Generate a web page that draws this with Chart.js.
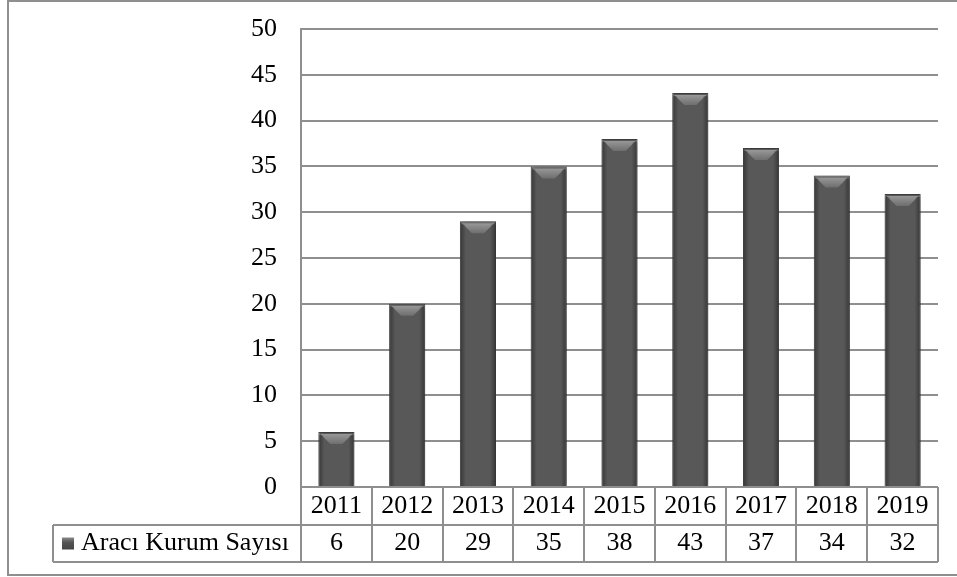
<!DOCTYPE html>
<html>
<head>
<meta charset="utf-8">
<script src="https://cdn.jsdelivr.net/npm/chart.js@4.4.1/dist/chart.umd.min.js"></script>
<style>
  body { margin: 0; background: #fff; }
  canvas { display: block; }
</style>
</head>
<body>
<canvas id="bar-chart" width="957" height="577"></canvas>
<script>
const years = ['2011', '2012', '2013', '2014', '2015', '2016', '2017', '2018', '2019'];
const counts = [6, 20, 29, 35, 38, 43, 37, 34, 32];
const seriesName = 'Aracı Kurum Sayısı';
const yMin = 0, yMax = 50, yStep = 5;

const lineGray = '#8f8f8f';
const barGray = '#585858';
const fontFamily = '"Liberation Serif", "Times New Roman", serif';
const font = '26px ' + fontFamily;

// soft shadow round the bars
const barShadow = {
  id: 'barShadow',
  beforeDatasetsDraw(chart) {
    const ctx = chart.ctx;
    ctx.save();
    ctx.shadowColor = 'rgba(0,0,0,0.4)';
    ctx.shadowBlur = 7;
    ctx.shadowOffsetX = 2;
    ctx.shadowOffsetY = 1;
  },
  afterDatasetsDraw(chart) {
    chart.ctx.restore();
    // bevel on the top of each bar
    const ctx = chart.ctx;
    chart.getDatasetMeta(0).data.forEach(bar => {
      const l = bar.x - bar.width / 2, r = bar.x + bar.width / 2, t = bar.y;
      const b = Math.min(12, (bar.base - t) / 2);
      const g = ctx.createLinearGradient(0, t, 0, t + b);
      g.addColorStop(0, '#a0a0a0');
      g.addColorStop(1, '#6e6e6e');
      ctx.fillStyle = g;
      ctx.beginPath();
      ctx.moveTo(l + 2, t + 2);
      ctx.lineTo(r - 2, t + 2);
      ctx.lineTo(r - b, t + b);
      ctx.lineTo(l + b, t + b);
      ctx.closePath();
      ctx.fill();
      // darker sides
      const sl = ctx.createLinearGradient(l, 0, l + 6, 0);
      sl.addColorStop(0, 'rgba(35,35,35,0.65)');
      sl.addColorStop(1, 'rgba(35,35,35,0)');
      ctx.fillStyle = sl;
      ctx.fillRect(l + 1, t + 3, 6, bar.base - t - 3);
      const sr = ctx.createLinearGradient(r - 6, 0, r, 0);
      sr.addColorStop(0, 'rgba(35,35,35,0)');
      sr.addColorStop(1, 'rgba(35,35,35,0.65)');
      ctx.fillStyle = sr;
      ctx.fillRect(r - 7, t + 3, 6, bar.base - t - 3);
    });
  }
};

// data table under the plot, plus outer frame
const dataTable = {
  id: 'dataTable',
  afterDraw(chart) {
    const ctx = chart.ctx;
    const x = chart.scales.x;
    const area = chart.chartArea;
    const top = area.bottom, mid = top + 38, bot = mid + 37;
    const legLeft = 53;
    const n = years.length;
    const cw = (area.right - area.left) / n;

    ctx.save();
    ctx.strokeStyle = lineGray;
    ctx.lineWidth = 2;
    ctx.strokeRect(8, 1, 970, 574);

    ctx.beginPath();
    ctx.moveTo(area.left, mid); ctx.lineTo(area.right, mid);
    ctx.moveTo(legLeft, mid); ctx.lineTo(area.left, mid);
    ctx.moveTo(legLeft, bot); ctx.lineTo(area.right, bot);
    ctx.moveTo(legLeft, mid); ctx.lineTo(legLeft, bot);
    for (let i = 0; i <= n; i++) {
      const ex = Math.round(area.left + i * cw);
      ctx.moveTo(ex, top); ctx.lineTo(ex, bot);
    }
    ctx.stroke();

    ctx.fillStyle = '#000';
    ctx.font = font;
    ctx.textAlign = 'center';
    ctx.textBaseline = 'middle';
    years.forEach((yr, i) => {
      const cx = x.getPixelForValue(i);
      ctx.fillText(yr, cx, (top + mid) / 2);
      ctx.fillText(String(counts[i]), cx, (mid + bot) / 2);
    });

    // legend key
    const kx = 62, ky = (mid + bot) / 2 - 6;
    const kg = ctx.createLinearGradient(0, ky, 0, ky + 12);
    kg.addColorStop(0, '#8a8a8a');
    kg.addColorStop(0.4, '#555');
    kg.addColorStop(1, '#444');
    ctx.fillStyle = kg;
    ctx.fillRect(kx, ky, 12, 12);
    ctx.fillStyle = '#000';
    ctx.textAlign = 'left';
    ctx.fillText(seriesName, 81, (mid + bot) / 2);
    ctx.restore();
  }
};

new Chart(document.getElementById('bar-chart').getContext('2d'), {
  type: 'bar',
  data: {
    labels: years,
    datasets: [{
      label: seriesName,
      data: counts,
      backgroundColor: barGray,
      borderColor: '#454545',
      borderWidth: 1,
      categoryPercentage: 1,
      barPercentage: 0.51
    }]
  },
  options: {
    responsive: false,
    animation: false,
    devicePixelRatio: 1,
    layout: { padding: { left: 0, top: 29, right: 19, bottom: 90 } },
    plugins: { legend: { display: false }, tooltip: { enabled: false } },
    scales: {
      x: { display: false },
      y: {
        min: yMin,
        max: yMax,
        afterFit(scale) {
          scale.width = 301;
          scale.paddingTop = 0;
          scale.paddingBottom = 0;
        },
        ticks: {
          stepSize: yStep,
          padding: 24,
          color: '#000',
          font: { family: fontFamily, size: 26 }
        },
        grid: { color: lineGray, lineWidth: 2, drawTicks: false },
        border: { display: true, color: lineGray, width: 2 }
      }
    }
  },
  plugins: [barShadow, dataTable]
});
</script>
</body>
</html>
